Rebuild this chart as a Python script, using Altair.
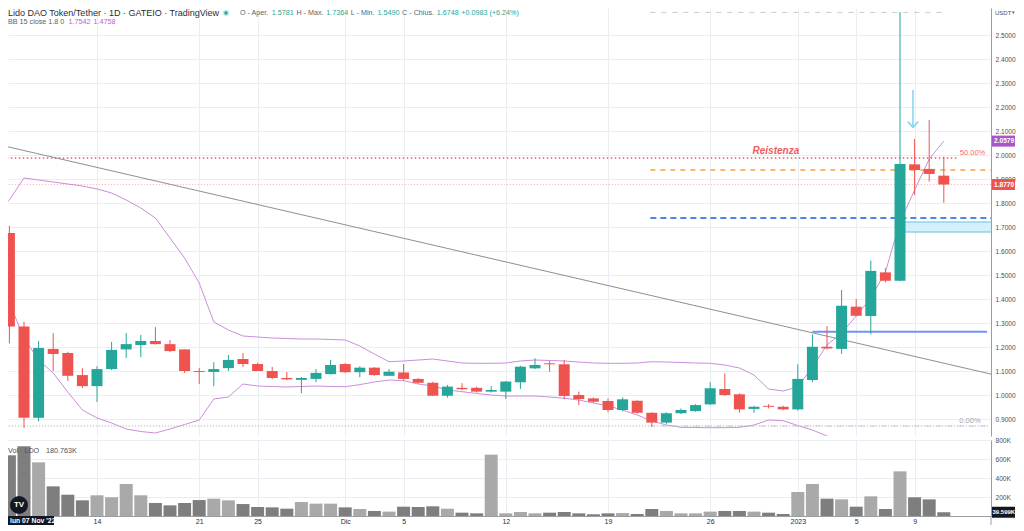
import json
import altair as alt
import pandas as pd

FONT = "Liberation Sans"
GRID = "#eaeef4"
AXIS = "#9a9da6"
UP, DOWN = "#26a69a", "#ef5350"
VUP, VDOWN = "#a9a9a9", "#7e7e7e"
BB = "#c98fdc"

# ---------------- data (day 0 = lun 07 Nov 2022 ... day 65 = 11 Jan 2023) ----------------
open_ = [1.5781, 1.675, 1.285, 0.905, 1.192, 1.175, 1.083, 1.037, 1.108, 1.190,
         1.208, 1.225, 1.212, 1.190, 1.100, 1.096, 1.112, 1.150, 1.129, 1.100,
         1.071, 1.063, 1.067, 1.087, 1.129, 1.095, 1.114, 1.080, 1.094, 1.067,
         1.051, 0.997, 1.030, 1.030, 1.014, 1.014, 1.053, 1.111, 1.132, 1.128,
         1.000, 0.986, 0.975, 0.9375, 0.976, 0.926, 0.885, 0.924, 0.933, 0.961,
         1.025, 1.003, 0.942, 0.955, 0.951, 0.940, 1.0625, 1.201, 1.192, 1.368,
         1.329, 1.511, 1.476, 1.961, 1.942, 1.914]
high = [1.7364, 1.705, 1.305, 1.225, 1.258, 1.180, 1.112, 1.120, 1.221, 1.258,
        1.250, 1.283, 1.229, 1.190, 1.112, 1.137, 1.167, 1.175, 1.135, 1.117,
        1.096, 1.075, 1.108, 1.146, 1.133, 1.120, 1.116, 1.108, 1.129, 1.070,
        1.055, 1.042, 1.049, 1.035, 1.037, 1.058, 1.122, 1.153, 1.142, 1.146,
        1.014, 0.990, 0.986, 0.990, 0.978, 0.928, 0.928, 0.944, 0.962, 1.053,
        1.090, 1.007, 0.955, 0.962, 0.955, 1.128, 1.253, 1.287, 1.4375, 1.400,
        1.560, 1.528, 2.596, 2.067, 2.146, 1.993]
low = [1.549, 1.215, 0.862, 0.890, 1.100, 1.058, 1.029, 0.971, 1.104, 1.154,
       1.158, 1.210, 1.179, 1.092, 1.046, 1.037, 1.100, 1.117, 1.100, 1.066,
       1.062, 1.008, 1.053, 1.085, 1.092, 1.074, 1.080, 1.078, 1.060, 1.047,
       0.995, 0.989, 1.020, 1.010, 1.010, 0.983, 1.025, 1.108, 1.097, 0.982,
       0.958, 0.967, 0.928, 0.932, 0.922, 0.868, 0.880, 0.920, 0.930, 0.958,
       0.996, 0.926, 0.926, 0.944, 0.937, 0.935, 1.053, 1.190, 1.171, 1.328,
       1.253, 1.469, 1.474, 1.833, 1.889, 1.801]
close = [1.6748, 1.285, 0.905, 1.196, 1.171, 1.080, 1.037, 1.108, 1.188, 1.212,
         1.225, 1.212, 1.183, 1.100, 1.096, 1.108, 1.146, 1.129, 1.100, 1.071,
         1.065, 1.071, 1.092, 1.125, 1.095, 1.114, 1.083, 1.097, 1.067, 1.051,
         0.997, 1.035, 1.024, 1.014, 1.021, 1.056, 1.118, 1.125, 1.128, 0.996,
         0.983, 0.972, 0.9375, 0.982, 0.926, 0.885, 0.924, 0.9375, 0.958, 1.028,
         1.000, 0.940, 0.951, 0.951, 0.940, 1.067, 1.201, 1.194, 1.372, 1.330,
         1.517, 1.476, 1.9625, 1.9375, 1.921, 1.877]
volume_k = [180.763, 639, 734, 565, 312, 224, 165, 218, 197, 337,
            218, 137, 112, 137, 168, 182, 165, 126, 95, 91,
            77, 147, 130, 130, 91, 74, 53, 46, 98, 95,
            102, 77, 35, 28, 646, 28, 42, 28, 35, 42,
            28, 18, 28, 31, 21, 74, 53, 28, 28, 46,
            53, 53, 46, 35, 21, 253, 337, 182, 175, 98,
            207, 74, 470, 197, 175, 39.599]
bb_upper = [1.7542, 1.8125, 1.9042, 1.8958, 1.8875, 1.8792, 1.8708, 1.8583, 1.8417, 1.8125,
            1.7792, 1.7375, 1.6542, 1.5708, 1.4667, 1.3042, 1.2708, 1.2458, 1.2417, 1.2375,
            1.2354, 1.2333, 1.2333, 1.2313, 1.2292, 1.2042, 1.1708, 1.1388, 1.1417, 1.1458,
            1.1500, 1.1417, 1.1333, 1.1321, 1.1321, 1.1333, 1.1417, 1.1458, 1.1438, 1.1417,
            1.1375, 1.1333, 1.1321, 1.1321, 1.1333, 1.1388, 1.1375, 1.1354, 1.1333, 1.1321,
            1.1250, 1.1125, 1.0833, 1.0250, 1.0167, 1.0333, 1.1167, 1.2083, 1.2583, 1.3292,
            1.4042, 1.5125, 1.7208, 1.8542, 1.9833, 2.0579]
bb_lower = [1.4758, 1.3833, 1.2375, 1.1458, 1.0917, 1.0125, 0.9375, 0.9042, 0.8833, 0.8583,
            0.8479, 0.8417, 0.8583, 0.8771, 0.8958, 0.9833, 0.9917, 1.0458, 1.0375, 1.0354,
            1.0333, 1.0354, 1.0375, 1.0354, 1.0346, 1.0433, 1.0542, 1.0625, 1.0596, 1.0458,
            1.0375, 1.0208, 1.0138, 1.0063, 1.0000, 0.9958, 0.9958, 0.9958, 0.9917, 0.9863,
            0.9792, 0.9667, 0.9542, 0.9375, 0.9167, 0.8917, 0.8750, 0.8654, 0.8646, 0.8638,
            0.8638, 0.8654, 0.8750, 0.8958, 0.8929, 0.8729, 0.8542, 0.8292, 0.7875]

tick_days = [7, 14, 18, 24, 28, 35, 42, 49, 55, 59, 63]
tick_labels = ["14", "21", "25", "Dic", "5", "12", "19", "26", "2023", "5", "9"]
price_ticks = [0.9, 1.0, 1.1, 1.2, 1.3, 1.4, 1.5, 1.6, 1.7, 1.8, 1.9, 2.0, 2.1, 2.2, 2.3, 2.4, 2.5]
vol_ticks = [200000, 400000, 600000, 800000]

# drawings (price levels, day spans)
resist_price, resist_end = 1.9875, 65.9
fib_top_price, fib_start, fib_top_end = 2.594, 44.9, 65.2
fib_zero_price, fib_zero_end = 0.8708, 68.1
orange_price = 1.9375
blue_dash_price = 1.7375
zone_low, zone_high, zone_start = 1.679, 1.7208, 62.27
support_price, support_start, support_end = 1.2638, 56.0, 67.96
last_price, upper_last, vol_last = 1.877, 2.0579, 39599
trend_days, trend_prices = [0.356, 68.507], [2.0417, 1.0833]
arrow_day, arrow_prices = 62.89, [2.271, 2.115]
resist_label = (53.5, 2.017)
fib50_label = (66.97, 2.0083)
fib0_label = (66.79, 0.8917)

# ---------------- layout ----------------
W, HP, HV = 983, 428, 76
X_LO = 0.9041
X_HI = X_LO + W / 14.6
P_LO, P_HI = 0.82917, 2.6125
V_HI = HV * 200000 / 19
TAG_L, TAG_R = W + 1, W + 24

days = list(range(len(open_)))
cdf = pd.DataFrame({"d": days, "open": open_, "high": high, "low": low, "close": close,
                    "vol": [v * 1000 for v in volume_k]})
cdf["dir"] = ["up" if c >= o else "down" for o, c in zip(open_, close)]
cdf["vdir"] = ["v" + s for s in cdf["dir"]]

xs = alt.Scale(domain=[X_LO, X_HI], nice=False, zero=False, padding=0)
ys = alt.Scale(domain=[P_LO, P_HI], nice=False, zero=False, padding=0)
vs = alt.Scale(domain=[0, V_HI], nice=False, padding=0)

ax_xp = alt.Axis(values=tick_days, labels=False, ticks=False, domain=False, grid=True,
                 gridColor=GRID, title=None)
ax_yp = alt.Axis(orient="right", values=price_ticks, format=".4f", grid=True, gridColor=GRID,
                 ticks=False, domain=True, domainColor=AXIS, labelFont=FONT, labelFontSize=6.6,
                 labelColor="#4c4f5a", labelPadding=4, title=None)


def XP(f):
    return alt.X(f + ":Q", scale=xs, axis=ax_xp)


def YP(f):
    return alt.Y(f + ":Q", scale=ys, axis=ax_yp)


ONE = alt.Data(values=[{"a": 1}])

AW = {" ": 278, "-": 333, ".": 278, "+": 584, "(": 333, ")": 333, "%": 889, "·": 278,
      "O": 778, "A": 667, "H": 722, "M": 833, "L": 556, "C": 722, "V": 667, "D": 722, "K": 667,
      "B": 667, "i": 222, "l": 222, "r": 333, "x": 500, "s": 500, "c": 500}


def tw(s, size):
    return sum(AW.get(ch, 556) for ch in s) * size / 1000.0


def ptext(txt, x, y, size=7.2, color="#5d606b", weight="normal", align="left", style="normal"):
    return alt.Chart(ONE).mark_text(text=txt, align=align, baseline="middle", fontSize=size,
                                    color=color, font=FONT, fontWeight=weight,
                                    fontStyle=style).encode(x=alt.value(x), y=alt.value(y))


def hline(d1, d2, p, color, width=1.0, dash=None, opacity=1.0):
    df = pd.DataFrame({"d1": [d1], "d2": [d2], "p": [p]})
    kw = dict(color=color, strokeWidth=width, clip=True, opacity=opacity)
    if dash:
        kw["strokeDash"] = dash
    return alt.Chart(df).mark_rule(**kw).encode(x=XP("d1"), x2="d2", y=YP("p"))


def seg(d1, d2, p1, p2, color, width=1.0):
    df = pd.DataFrame({"d1": [d1], "d2": [d2], "p1": [p1], "p2": [p2]})
    return alt.Chart(df).mark_rule(color=color, strokeWidth=width, clip=True).encode(
        x=XP("d1"), x2="d2", y=YP("p1"), y2="p2")


color_p = alt.Color("dir:N", scale=alt.Scale(domain=["up", "down"], range=[UP, DOWN]), legend=None)

layers = []
# Bollinger bands
layers.append(alt.Chart(pd.DataFrame({"d": days, "v": bb_upper})).mark_line(
    color=BB, strokeWidth=1, clip=True).encode(x=XP("d"), y=YP("v")))
layers.append(alt.Chart(pd.DataFrame({"d": days[:len(bb_lower)], "v": bb_lower})).mark_line(
    color=BB, strokeWidth=1, clip=True).encode(x=XP("d"), y=YP("v")))
# trend line
layers.append(seg(trend_days[0], trend_days[1], trend_prices[0], trend_prices[1], "#8d8f94", 1))
# levels
layers.append(hline(X_LO - 2, X_HI + 2, last_price, DOWN, 1, [1, 2], 0.45))
layers.append(hline(X_LO - 2, fib_zero_end, fib_zero_price, "#a3a6ae", 1, [1, 2]))
layers.append(hline(fib_start, fib_zero_end, fib_zero_price, "#c5c8ce", 1, [5, 6]))
layers.append(hline(fib_start, fib_top_end, fib_top_price, "#c9cbd1", 1, [5, 6]))
layers.append(hline(X_LO - 2, resist_end, resist_price, "#e95a61", 1.5, [1.5, 2.5]))
layers.append(hline(fib_start, X_HI + 2, orange_price, "#f4a340", 1.5, [5, 5]))
zone = pd.DataFrame({"d1": [zone_start], "d2": [X_HI + 2], "p1": [zone_low], "p2": [zone_high]})
layers.append(alt.Chart(zone).mark_rect(fill="#d3f1fa", stroke="#6cbde3", strokeWidth=1, clip=True)
              .encode(x=XP("d1"), x2="d2", y=YP("p1"), y2="p2"))
layers.append(hline(fib_start, X_HI + 2, blue_dash_price, "#4f83ea", 2, [6, 4]))
layers.append(hline(support_start, support_end, support_price, "#6f93ee", 2))
# candles
layers.append(alt.Chart(cdf).mark_rule(strokeWidth=1, clip=True).encode(
    x=XP("d"), y=YP("low"), y2="high", color=color_p))
layers.append(alt.Chart(cdf).mark_bar(size=11, clip=True).encode(
    x=XP("d"), y=YP("open"), y2="close", color=color_p))
# arrow
arm_d = 0.36
arm_p = 0.025
layers.append(seg(arrow_day, arrow_day, arrow_prices[0], arrow_prices[1], "#7fd4ea", 1.5))
layers.append(seg(arrow_day - arm_d, arrow_day, arrow_prices[1] + arm_p, arrow_prices[1], "#7fd4ea", 1.5))
layers.append(seg(arrow_day + arm_d, arrow_day, arrow_prices[1] + arm_p, arrow_prices[1], "#7fd4ea", 1.5))
# drawing labels
lab = pd.DataFrame({"d": [resist_label[0]], "p": [resist_label[1]], "t": ["Reistenza"]})
layers.append(alt.Chart(lab).mark_text(fontStyle="italic", fontWeight="bold", fontSize=10,
                                       color="#ee5b63", font=FONT).encode(x=XP("d"), y=YP("p"), text="t:N"))
lab = pd.DataFrame({"d": [fib50_label[0]], "p": [fib50_label[1]], "t": ["50.00%"]})
layers.append(alt.Chart(lab).mark_text(fontSize=7.5, color="#ef6b72", font=FONT).encode(
    x=XP("d"), y=YP("p"), text="t:N"))
lab = pd.DataFrame({"d": [fib0_label[0]], "p": [fib0_label[1]], "t": ["0.00%"]})
layers.append(alt.Chart(lab).mark_text(fontSize=7.5, color="#a3a6ae", font=FONT).encode(
    x=XP("d"), y=YP("p"), text="t:N"))

# right-side price tags
half = 5.5 * (P_HI - P_LO) / HP
for val, col in [(upper_last, "#a855c7"), (last_price, DOWN)]:
    tag = pd.DataFrame({"p": [val], "p1": [val + half], "p2": [val - half], "t": [f"{val:.4f}"]})
    layers.append(alt.Chart(tag).mark_rect(color=col).encode(
        x=alt.value(TAG_L), x2=alt.value(TAG_R), y=YP("p1"), y2="p2"))
    layers.append(alt.Chart(tag).mark_text(align="left", fontSize=6.6, color="white", font=FONT,
                                           fontWeight="bold").encode(
        x=alt.value(TAG_L + 2), y=YP("p"), text="t:N"))
layers.append(ptext("USDT", W + 4, 5, size=6, color="#4c4f5a"))
layers.append(ptext("▾", W + 22.5, 5, size=4.5, color="#4c4f5a", align="center"))

# header legend
layers.append(ptext("Lido DAO Token/Tether · 1D · GATEIO · TradingView", 0, 5, size=9, color="#2a2e39"))
layers.append(alt.Chart(ONE).mark_circle(size=40, color=UP, opacity=0.25).encode(
    x=alt.value(218), y=alt.value(5)))
layers.append(alt.Chart(ONE).mark_circle(size=12, color=UP, opacity=1).encode(
    x=alt.value(218), y=alt.value(5)))
segments = [("O - Aper.", "#5d606b"), ("1.5781", UP), ("H - Max.", "#5d606b"), ("1.7364", UP),
            ("L - Min.", "#5d606b"), ("1.5490", UP), ("C - Chius.", "#5d606b"), ("1.6748", UP),
            ("+0.0983 (+6.24%)", UP)]
xpos = 232.0
for s, col in segments:
    layers.append(ptext(s, xpos, 5, size=7.2, color=col))
    xpos += tw(s, 7.2) + 2.6
s1 = "BB 15 close 1.8 0"
layers.append(ptext(s1, 0, 14, size=7.2, color="#5d606b"))
x2p = tw(s1, 7.2) + 4
layers.append(ptext("1.7542", x2p, 14, size=7.2, color="#b55fcf"))
layers.append(ptext("1.4758", x2p + tw("1.7542", 7.2) + 3, 14, size=7.2, color="#b55fcf"))

price = alt.layer(*layers).properties(width=W, height=HP)

# ---------------- volume pane ----------------
ax_xv = alt.Axis(values=tick_days,
                 labelExpr=f"{json.dumps(tick_labels)}[indexof({json.dumps(tick_days)}, datum.value)]",
                 grid=True, gridColor=GRID, ticks=False, domain=True, domainColor=AXIS,
                 labelFont=FONT, labelFontSize=7, labelColor="#2a2e39", labelPadding=1,
                 labelOverlap=False, title=None)
ax_yv = alt.Axis(orient="right", values=vol_ticks, labelExpr="round(datum.value/1000) + 'K'",
                 grid=True, gridColor=GRID, ticks=False, domain=True, domainColor=AXIS,
                 labelFont=FONT, labelFontSize=6.6, labelColor="#4c4f5a", labelPadding=4, title=None)

vlayers = []
vlayers.append(alt.Chart(cdf).mark_bar(size=13, clip=True).encode(
    x=alt.X("d:Q", scale=xs, axis=ax_xv),
    y=alt.Y("vol:Q", scale=vs, axis=ax_yv),
    color=alt.Color("vdir:N", scale=alt.Scale(domain=["vup", "vdown"], range=[VUP, VDOWN]), legend=None)))
vlayers.append(ptext("Vol · LDO", 0, 11, size=7.2, color="#4c4f5a"))
vlayers.append(ptext("180.763K", 38, 11, size=7.2, color="#4c4f5a"))
vlayers.append(alt.Chart(ONE).mark_circle(size=320, color="#131722", opacity=1).encode(
    x=alt.value(11), y=alt.value(65)))
vlayers.append(ptext("TV", 11, 65, size=8, color="white", weight="bold", align="center"))
vhalf = 5.5 * V_HI / HV
vt = pd.DataFrame({"v": [vol_last], "v1": [vol_last + vhalf], "v2": [vol_last - vhalf], "t": ["39.599K"]})
vlayers.append(alt.Chart(vt).mark_rect(color="#131722").encode(
    x=alt.value(TAG_L), x2=alt.value(TAG_R), y=alt.Y("v1:Q", scale=vs, axis=ax_yv), y2="v2"))
vlayers.append(alt.Chart(vt).mark_text(align="left", fontSize=6, color="white", font=FONT,
                                       fontWeight="bold").encode(
    x=alt.value(TAG_L + 0.5), y=alt.Y("v:Q", scale=vs, axis=ax_yv), text="t:N"))
vlayers.append(alt.Chart(ONE).mark_rect(color="#131722").encode(
    x=alt.value(0), x2=alt.value(46), y=alt.value(HV), y2=alt.value(HV + 9)))
vlayers.append(ptext("lun 07 Nov '22", 2, HV + 4.5, size=6.8, color="white", weight="bold"))
vlayers.append(alt.Chart(ONE).mark_rule(color=AXIS).encode(
    x=alt.value(W), y=alt.value(HV), y2=alt.value(HV + 9)))

volume = alt.layer(*vlayers).properties(width=W, height=HV)

chart = (alt.vconcat(price, volume, spacing=1)
         .resolve_scale(color="independent")
         .properties(padding=0, background="white")
         .configure_view(stroke=None))

chart.save("out.html", embed_options={"renderer": "svg", "actions": False})
